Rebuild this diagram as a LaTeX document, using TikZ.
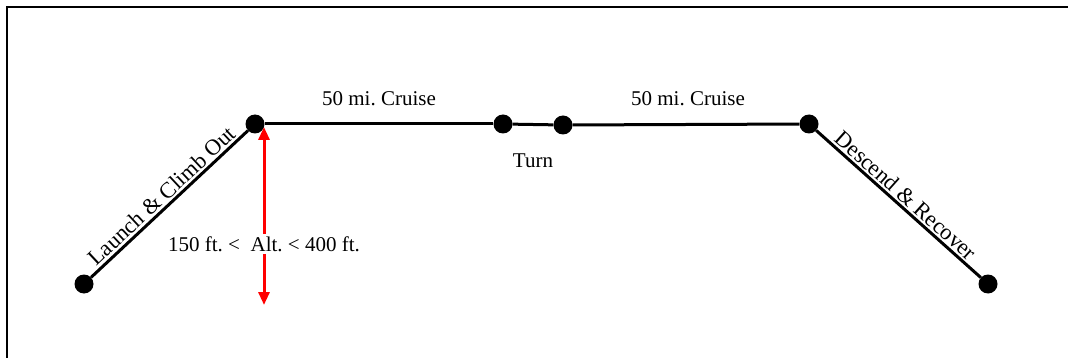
\documentclass[tikz,border=0pt]{standalone}
\usepackage{fontspec}
\setmainfont{Liberation Serif}
\usetikzlibrary{arrows.meta}
\begin{document}
\frenchspacing
\begin{tikzpicture}[x=1pt,y=-1pt,
  wp/.style={circle,fill=black,minimum size=19pt,inner sep=0pt},
  leg/.style={line width=3pt,black},
  lbl/.style={font=\fontsize{21}{25}\selectfont,inner sep=3pt},
  slbl/.style={font=\fontsize{22.5}{26}\selectfont,inner sep=2pt},
  alt/.style={line width=3pt,red,{Triangle[length=13pt,width=11pt]}-{Triangle[length=13pt,width=11pt]}}]
\useasboundingbox (0,0) rectangle (1068,358);
\draw[line width=2pt] (7,358) -- (7,7) -- (1068,7);
\node[wp] (p1) at (84,284) {};
\node[wp] (p2) at (255,124) {};
\node[wp] (p3) at (503,124) {};
\node[wp] (p4) at (563,125) {};
\node[wp] (p5) at (809,124) {};
\node[wp] (p6) at (988,284) {};
\draw[leg] (p1) -- node[slbl,midway,sloped,above] {Launch \& Climb Out} (p2);
\draw[leg] (p2) -- (p3);
\draw[leg] (p3) -- (p4);
\draw[leg] (p4) -- (p5);
\draw[leg] (p5) -- node[slbl,midway,sloped,above] {Descend \& Recover} (p6);
\node[lbl] (c1) at (379,99) {50 mi. Cruise};
\node[lbl] (c2) at (688,99) {50 mi. Cruise};
\node[lbl] (turn) at (533,161) {Turn};
\coordinate (altTop) at (264,127);
\coordinate (altBot) at (264,305);
\draw[alt] (altTop) -- (altBot);
\node[lbl,fill=white,inner sep=2pt] (altlbl) at (264,244) {150 ft. <\ \ Alt. < 400 ft.};
\end{tikzpicture}
\end{document}
